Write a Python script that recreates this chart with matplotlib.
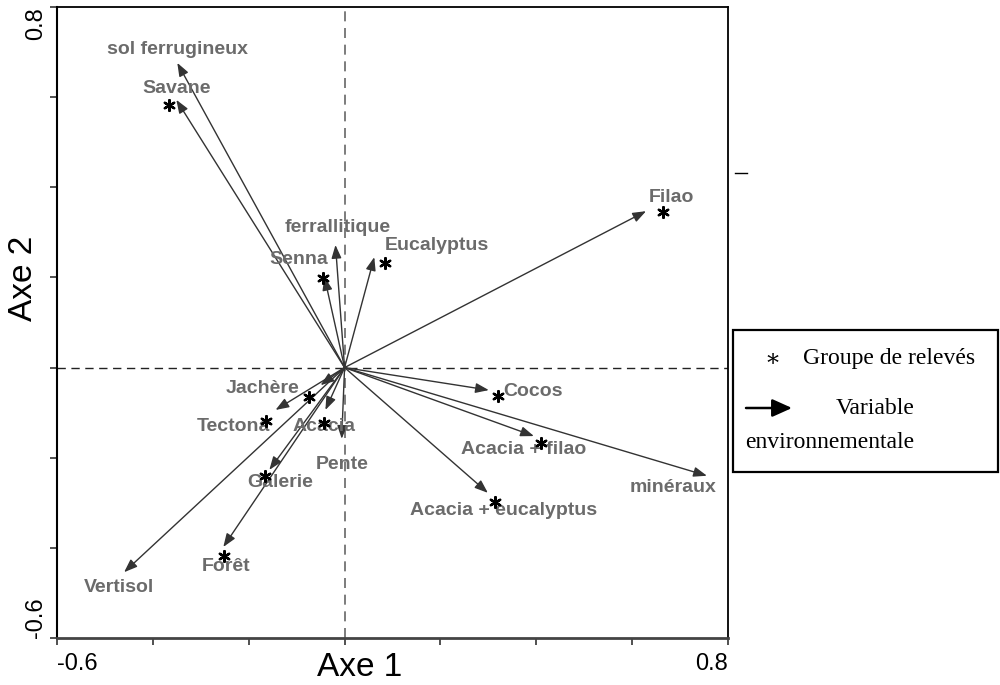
import matplotlib
matplotlib.use("Agg")
import matplotlib.pyplot as plt
from matplotlib.patches import Rectangle, FancyArrowPatch
from matplotlib.lines import Line2D

# variables (arrows from the origin)
var_names = ["sol ferrugineux", "Savane", "ferrallitique", "Senna", "Eucalyptus", "Filao",
             "Cocos", "Acacia + filao", "minéraux", "Acacia + eucalyptus", "Pente", "Acacia",
             "Jachère", "Tectona", "Galerie", "Forêt", "Vertisol"]
arrow_x = [-0.349, -0.351, -0.019, -0.042, 0.062, 0.629, 0.301, 0.395, 0.756, 0.299,
           -0.006, -0.040, -0.050, -0.144, -0.157, -0.253, -0.460]
arrow_y = [0.676, 0.594, 0.272, 0.201, 0.245, 0.347, -0.050, -0.152, -0.240, -0.278,
           -0.158, -0.094, -0.039, -0.094, -0.227, -0.398, -0.454]

# label anchors (data coords)
label_x = [-0.349, -0.351, -0.015, -0.096, 0.192, 0.683, 0.394, 0.374, 0.685, 0.332,
           -0.006, -0.042, -0.171, -0.232, -0.134, -0.247, -0.470]
label_y = [0.705, 0.620, 0.310, 0.239, 0.270, 0.378, -0.054, -0.181, -0.265, -0.318,
           -0.214, -0.130, -0.047, -0.130, -0.256, -0.442, -0.487]

# groupes de releves (asterisks)
grp_names = ["Savane", "Senna", "Eucalyptus", "Filao", "Cocos", "Acacia + filao",
             "Acacia + eucalyptus", "Acacia", "Jachère", "Tectona", "Galerie", "Forêt"]
grp_x = [-0.366, -0.044, 0.085, 0.664, 0.321, 0.409, 0.313, -0.042, -0.075, -0.163, -0.165, -0.251]
grp_y = [0.583, 0.199, 0.232, 0.345, -0.063, -0.167, -0.298, -0.123, -0.065, -0.118, -0.240, -0.418]

tick_vals = [-0.6, -0.4, -0.2, 0.0, 0.2, 0.4, 0.6, 0.8]

fig = plt.figure(figsize=(10, 6.85), dpi=100)
ax = fig.add_axes([0.057, 0.0686, 0.671, 0.9212])
ax.set_xlim(-0.6, 0.8)
ax.set_ylim(-0.6, 0.8)

ax.axhline(0, color="#222222", ls=(0, (6, 4)), lw=1)
ax.axvline(0, color="#666666", ls=(0, (6, 4)), lw=1.2)

for x, y in zip(arrow_x, arrow_y):
    ax.annotate("", xy=(x, y), xytext=(0, 0),
                arrowprops=dict(arrowstyle="-|>,head_length=0.8,head_width=0.3",
                                mutation_scale=10, color="#333333", lw=1,
                                shrinkA=0, shrinkB=0))

for name, x, y in zip(var_names, label_x, label_y):
    ax.text(x, y, name, ha="center", va="center", fontsize=14, fontweight="bold",
            color="#6b6b6b", family="Liberation Sans")

ax.scatter(grp_x, grp_y, marker=(6, 2, 0), s=60, color="black", linewidths=1.7, zorder=5)

ax.set_xticks(tick_vals)
ax.set_yticks(tick_vals)
ax.set_xticklabels(["-0.6"] + [""] * 6 + ["0.8"], fontsize=17, family="Liberation Sans")
ax.set_yticklabels(["-0.6"] + [""] * 6 + ["0.8"], fontsize=17, family="Liberation Sans",
                   rotation=90)
xl = ax.get_xticklabels()
xl[0].set_ha("left")
xl[-1].set_ha("right")
yl = ax.get_yticklabels()
yl[0].set_va("bottom")
yl[-1].set_va("top")
ax.tick_params(axis="x", direction="out", length=5, width=1.2, color="#333333", pad=6)
ax.tick_params(axis="y", direction="out", length=5, width=1.2, color="#333333", pad=2)

ax.spines["bottom"].set_color("#444444")
ax.spines["bottom"].set_linewidth(2)
ax.spines["left"].set_linewidth(1.5)
for s in ["top", "right"]:
    ax.spines[s].set_linewidth(1.3)

fig.text(0.360, 1 - 668 / 685, "Axe 1", ha="center", va="center", fontsize=24,
         family="Liberation Sans")
fig.text(0.023, 1 - 278 / 685, "Axe 2", ha="center", va="center", fontsize=24,
         family="Liberation Sans", rotation=90)

# stray mark at right of frame
fig.add_artist(Line2D([0.735, 0.747], [1 - 173 / 685] * 2, color="black", lw=1))

# legend box
fig.add_artist(Rectangle((0.733, 1 - 472 / 685), 0.265, 142 / 685, fill=False,
                         edgecolor="black", lw=1.6, transform=fig.transFigure))
fig.text(0.772, 1 - 360 / 685, "∗", ha="center", va="center", fontsize=17,
         family=["Liberation Serif", "DejaVu Serif", "DejaVu Sans"])
fig.text(0.803, 1 - 358 / 685, "Groupe de relevés", ha="left", va="center", fontsize=17,
         family="Liberation Serif")
fig.add_artist(FancyArrowPatch(
    (0.746, 1 - 408 / 685), (0.792, 1 - 408 / 685), transform=fig.transFigure,
    arrowstyle="-|>,head_length=1.0,head_width=0.45", mutation_scale=12,
    color="black", lw=1.8, shrinkA=0, shrinkB=0))
fig.text(0.875, 1 - 408 / 685, "Variable", ha="center", va="center", fontsize=17,
         family="Liberation Serif")
fig.text(0.830, 1 - 442 / 685, "environnementale", ha="center", va="center", fontsize=17,
         family="Liberation Serif")

fig.savefig("out.png", dpi=100)
